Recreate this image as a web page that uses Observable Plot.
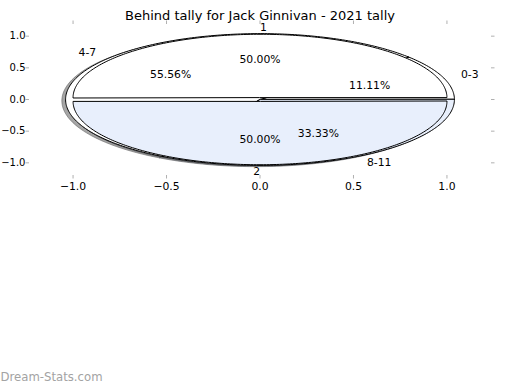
<!DOCTYPE html>
<html><head><meta charset="utf-8">
<script src="https://cdn.jsdelivr.net/npm/d3@7"></script>
<script src="https://cdn.jsdelivr.net/npm/@observablehq/plot@0.6"></script>
<style>body{margin:0;background:#fff}</style>
</head><body><div id="chart"></div>
<script>
const title = "Behind tally for Jack Ginnivan - 2021 tally";
const watermark = "Dream-Stats.com";
const outerLabels = ["1", "2"];
const outerValues = [50, 50];
const outerColors = ["#ffffff", "#e8effc"];
const innerLabels = ["0-3", "4-7", "8-11"];
const innerValues = [11.11, 55.56, 33.33];
const innerColors = ["#ffffff", "#ffffff", "#e8effc"];
const xTicks = [-1.0, -0.5, 0.0, 0.5, 1.0];
const yTicks = [-1.0, -0.5, 0.0, 0.5, 1.0];

function pie(labels, values, colors, {radius = 1, explode = 0, start = 0, labelDist = 1.1, pctDist = 0.6}) {
  const total = d3.sum(values);
  let a = start;
  return values.map((v, i) => {
    const a0 = a, a1 = a + 360 * v / total; a = a1;
    const mid = (a0 + a1) / 2 * Math.PI / 180;
    const cx = explode * Math.cos(mid), cy = explode * Math.sin(mid);
    const pts = [{x: cx, y: cy}];
    const n = Math.max(2, Math.ceil(a1 - a0));
    for (let k = 0; k <= n; k++) {
      const t = (a0 + (a1 - a0) * k / n) * Math.PI / 180;
      pts.push({x: cx + radius * Math.cos(t), y: cy + radius * Math.sin(t)});
    }
    const c = d3.rgb(colors[i]);
    const shadow = d3.rgb(c.r * 0.3, c.g * 0.3, c.b * 0.3).formatHex();
    return {
      label: labels[i], pct: (100 * v / total).toFixed(2) + "%", color: colors[i], shadow, pts,
      lx: cx + labelDist * radius * Math.cos(mid), ly: cy + labelDist * radius * Math.sin(mid),
      px: cx + pctDist * radius * Math.cos(mid), py: cy + pctDist * radius * Math.sin(mid),
      right: Math.cos(mid) > 0
    };
  });
}

const under = pie(innerLabels, innerValues, innerColors, {radius: 1.04});
const over = pie(outerLabels, outerValues, outerColors, {radius: 1, explode: 0.03});
const wedges = [...under, ...over];

const shadowMarks = wedges.map(w => Plot.line(w.pts.map(p => ({x: p.x - 0.02, y: p.y - 0.02})), {
  x: "x", y: "y", curve: "linear-closed", fill: w.shadow, stroke: w.shadow,
  fillOpacity: 0.5, strokeOpacity: 0.5, strokeWidth: 1
}));
const wedgeMarks = wedges.map(w => Plot.line(w.pts, {
  x: "x", y: "y", curve: "linear-closed", fill: w.color, stroke: "black", strokeWidth: 1, strokeLinejoin: "miter"
}));

const chart = Plot.plot({
  width: 520, height: 390,
  marginLeft: 29, marginRight: 30, marginTop: 23, marginBottom: 215,
  x: {domain: [-1.233, 1.233], label: null},
  y: {domain: [-1.2, 1.2], label: null},
  style: {fontFamily: "DejaVu Sans", fontSize: "10.8px", background: "white", color: "black"},
  marks: [
    ...shadowMarks,
    ...wedgeMarks,
    Plot.text(wedges.filter(w => w.right), {x: "lx", y: "ly", text: "label", textAnchor: "start", fill: "black"}),
    Plot.text(wedges.filter(w => !w.right), {x: "lx", y: "ly", text: "label", textAnchor: "end", fill: "black"}),
    Plot.text(wedges, {x: "px", y: "py", text: "pct", textAnchor: "middle", fill: "black"}),
    Plot.axisX({anchor: "bottom", ticks: xTicks, tickSize: 3.5, tickPadding: 3, stroke: "#b0b0b0", fill: "black", tickFormat: d3.format(".1f")}),
    Plot.axisX({anchor: "top", ticks: xTicks, tickSize: 3.5, stroke: "#b0b0b0", tickFormat: () => ""}),
    Plot.axisY({anchor: "left", ticks: yTicks, tickSize: 3.5, tickPadding: 0.5, fontSize: 10, stroke: "#b0b0b0", fill: "black", tickFormat: d3.format(".1f")}),
    Plot.axisY({anchor: "right", ticks: yTicks, tickSize: 3.5, stroke: "#b0b0b0", tickFormat: () => ""}),
    Plot.text([title], {text: d => d, frameAnchor: "top", dy: -13, fontSize: 13, fill: "black"}),
    Plot.text([watermark], {text: d => d, frameAnchor: "bottom-left", textAnchor: "start", dx: -29, dy: 205, fontSize: 11.7, fill: "#a3a3a3"})
  ]
});
document.getElementById("chart").appendChild(chart);
</script>
</body></html>
